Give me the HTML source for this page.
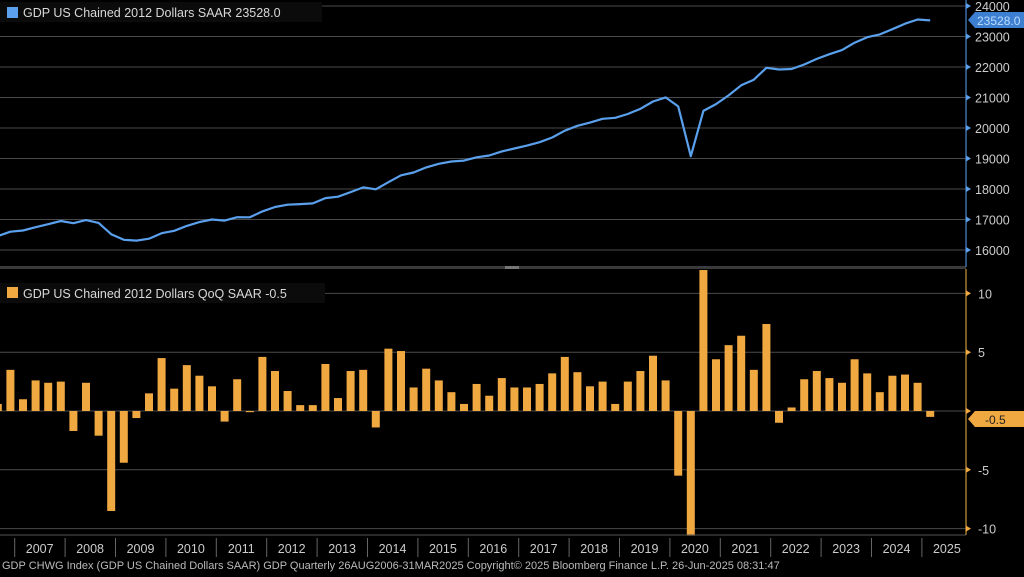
<!DOCTYPE html>
<html><head><meta charset="utf-8">
<style>
html,body{margin:0;padding:0;background:#000;}
body{width:1024px;height:572px;overflow:hidden;font-family:"Liberation Sans",sans-serif;}
svg text{font-family:"Liberation Sans",sans-serif;}
</style></head>
<body>
<svg id="c" width="1024" height="572" xmlns="http://www.w3.org/2000/svg">
<rect width="1024" height="572" fill="#000"/>
<g id="grid"></g>
<g id="bars"></g>
<polyline id="line" fill="none" stroke="#5aa0ec" stroke-width="2.2" stroke-linejoin="round"/>
<!-- panel separator -->
<rect x="0" y="266" width="966" height="3" fill="#3a3a3a"/>
<rect x="505" y="266" width="14" height="3" fill="#777"/>
<!-- right axis -->
<line x1="966" y1="0" x2="966" y2="267" stroke="#3f6fa8" stroke-width="1.5"/>
<line x1="966" y1="269" x2="966" y2="535" stroke="#a07a30" stroke-width="1.5"/>
<line x1="0" y1="535" x2="966" y2="535" stroke="#555" stroke-width="1"/>
<g id="axis"></g>
<!-- legends -->
<rect x="0" y="2" width="322" height="20" fill="#0b0b0b"/>
<rect x="7" y="7" width="11" height="11" fill="#5aa0ec"/>
<text x="23" y="17" fill="#d8d8d8" font-size="12.5">GDP US Chained 2012 Dollars SAAR 23528.0</text>
<rect x="0" y="283" width="325" height="20" fill="#0b0b0b"/>
<rect x="7" y="287" width="11" height="11" fill="#f0a840"/>
<text x="23" y="298" fill="#d8d8d8" font-size="12.5">GDP US Chained 2012 Dollars QoQ SAAR -0.5</text>
<!-- value tags -->
<path d="M968,20 L975,12 L1024,12 L1024,28 L975,28 Z" fill="#3d7fd0"/>
<text x="977" y="25" fill="#bcdcff" font-size="12">23528.0</text>
<path d="M968,419 L975,411 L1024,411 L1024,427 L975,427 Z" fill="#f0a840"/>
<text x="985" y="424" fill="#222" font-size="12">-0.5</text>
<text x="2" y="569" fill="#bbb" font-size="11">GDP CHWG Index (GDP US Chained Dollars SAAR) GDP  Quarterly 26AUG2006-31MAR2025    Copyright© 2025 Bloomberg Finance L.P.    26-Jun-2025 08:31:47</text>
</svg>
<script>
var ns="http://www.w3.org/2000/svg";
function el(t,a,p){var e=document.createElementNS(ns,t);for(var k in a)e.setAttribute(k,a[k]);(p||document.getElementById('c')).appendChild(e);return e;}
var grid=document.getElementById('grid'),axis=document.getElementById('axis'),bars=document.getElementById('bars');
function yT(v){return 250-(v-16000)*0.0305;}
function yB(v){return 411-v*11.76;}
for(var v=16000;v<=24000;v+=1000){var y=yT(v);el('line',{x1:0,y1:y,x2:966,y2:y,stroke:'#4a4a4a','stroke-width':1},grid);
 el('path',{d:'M966,'+(y-3)+' L971,'+y+' L966,'+(y+3)+'Z',fill:'#5aa0ec'},axis);
 el('text',{x:975,y:y+5,fill:'#ccc','font-size':'12.5'},axis).textContent=v;}
for(var v=-10;v<=10;v+=5){var y=yB(v);el('line',{x1:0,y1:y,x2:966,y2:y,stroke:'#4a4a4a','stroke-width':1},grid);
 el('path',{d:'M966,'+(y-3)+' L971,'+y+' L966,'+(y+3)+'Z',fill:'#f0a840'},axis);
 if(v!==0)el('text',{x:978,y:y+5,fill:'#ccc','font-size':'12.5'},axis).textContent=v;}
// years
for(var yr=2007;yr<=2025;yr++){var xb=23-6.3+(yr-2007)*50.4;
 el('line',{x1:xb-2,y1:538,x2:xb-2,y2:557,stroke:'#666'},axis);
 el('text',{x:xb+23,y:553,fill:'#ccc','font-size':'12.5','text-anchor':'middle'},axis).textContent=yr;}
var q=[0.6,3.5, 1.0,2.6,2.4,2.5, -1.7,2.4,-2.1,-8.5, -4.4,-0.6,1.5,4.5, 1.9,3.9,3.0,2.1, -0.9,2.7,-0.1,4.6,
3.4,1.7,0.5,0.5, 4.0,1.1,3.4,3.5, -1.4,5.3,5.1,2.0, 3.6,2.6,1.6,0.6, 2.3,1.3,2.8,2.0, 2.0,2.3,3.2,4.6,
3.3,2.1,2.5,0.6, 2.5,3.4,4.7,2.6, -5.5,-28,35,4.4, 5.6,6.4,3.5,7.4, -1.0,0.3,2.7,3.4, 2.8,2.4,4.4,3.2, 1.6,3.0,3.1,2.4, -0.5];
var x0=23-2*12.6, pts=[], lv=[1];
for(var i=1;i<q.length;i++)lv.push(lv[i-1]*Math.pow(1+q[i]/100,0.25));
var sc=23528/lv[lv.length-1];
for(var i=0;i<q.length;i++){var x=x0+i*12.6,v=q[i];
 var vv=Math.max(-10.6,Math.min(12,v));var y1=yB(Math.max(0,vv)),y2=yB(Math.min(0,vv));
 el('rect',{x:x-4,y:Math.max(270,y1),width:8,height:y2-Math.max(270,y1),fill:'#f0a840'},bars);
 pts.push(x.toFixed(1)+','+yT(lv[i]*sc).toFixed(1));}
document.getElementById('line').setAttribute('points',pts.join(' '));
</script>
</body></html>
